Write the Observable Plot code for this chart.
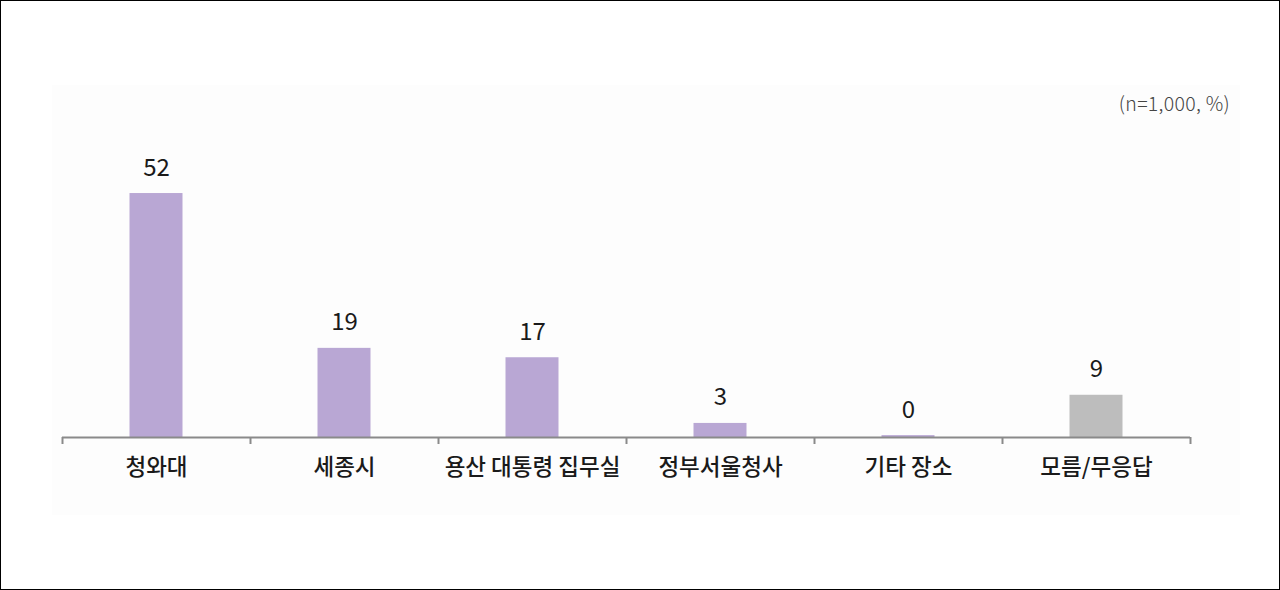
<!DOCTYPE html>
<html>
<head>
<meta charset="utf-8">
<script src="https://cdn.jsdelivr.net/npm/d3@7"></script>
<script src="https://cdn.jsdelivr.net/npm/@observablehq/plot@0.6"></script>
<style>
  html, body { margin: 0; padding: 0; background: #fff; }
  #wrap { position: relative; width: 1280px; height: 590px; overflow: hidden; font-family: "Noto Sans CJK KR", "Noto Sans", sans-serif; }
  #frame { position: absolute; left: 0; top: 0; width: 1280px; height: 590px; border: 1px solid #000; box-sizing: border-box; pointer-events: none; z-index: 3; }
  #panel { position: absolute; left: 52px; top: 85px; width: 1188px; height: 430px; background: #fdfdfd; z-index: 0; }
  #unit { position: absolute; right: 50px; top: 88px; font-size: 19.5px; letter-spacing: 0.3px; color: #444; font-family: "Noto Sans CJK KR", sans-serif; font-weight: 300; z-index: 2; }
  #chart { position: absolute; left: 0; top: 0; z-index: 1; }
</style>
</head>
<body>
<div id="wrap">
  <div id="panel"></div>
  <div id="unit">(n=1,000, %)</div>
  <div id="chart"></div>
  <div id="frame"></div>
</div>
<script>
const categories = ["청와대", "세종시", "용산 대통령 집무실", "정부서울청사", "기타 장소", "모름/무응답"];
const values = [52, 19, 17, 3, 0.4, 9];
const barColors = ["#b9a7d4", "#b9a7d4", "#b9a7d4", "#b9a7d4", "#b9a7d4", "#bdbdbd"];

const data = categories.map((c, i) => ({ category: c, index: i, value: values[i], color: barColors[i] }));
const boundaries = d3.range(categories.length + 1);
const centers = categories.map((c, i) => i + 0.5);

const chart = Plot.plot({
  width: 1280,
  height: 590,
  marginLeft: 62,
  marginRight: 90,
  marginTop: 155.5,
  marginBottom: 153,
  style: { background: "transparent", fontFamily: "'Noto Sans CJK KR', sans-serif", color: "#222" },
  x: { type: "linear", domain: [0, categories.length], label: null },
  y: { domain: [0, 60], axis: null },
  marks: [
    Plot.rectY(data, { x1: "index", x2: d => d.index + 1, y: "value", fill: d => d.color, insetLeft: 67.5, insetRight: 67.5 }),
    Plot.ruleY([0], { stroke: "#8a8a8a", strokeWidth: 2 }),
    Plot.axisX({ ticks: boundaries, tickSize: 7, tickFormat: () => "", label: null, stroke: "#8a8a8a", strokeWidth: 2, strokeOpacity: 1 }),
    Plot.axisX({ ticks: centers, tickSize: 0, tickPadding: 22, label: null, tickFormat: d => categories[Math.round(d - 0.5)], fontSize: 22.5, fontWeight: 500, fill: "#1a1a1a" }),
    Plot.text(data, { x: d => d.index + 0.5, y: "value", text: d => d3.format(".0f")(d.value), dy: -18, lineAnchor: "bottom", fontSize: 24, fontWeight: 400, fill: "#1a1a1a" })
  ]
});
document.getElementById("chart").appendChild(chart);
</script>
</body>
</html>
